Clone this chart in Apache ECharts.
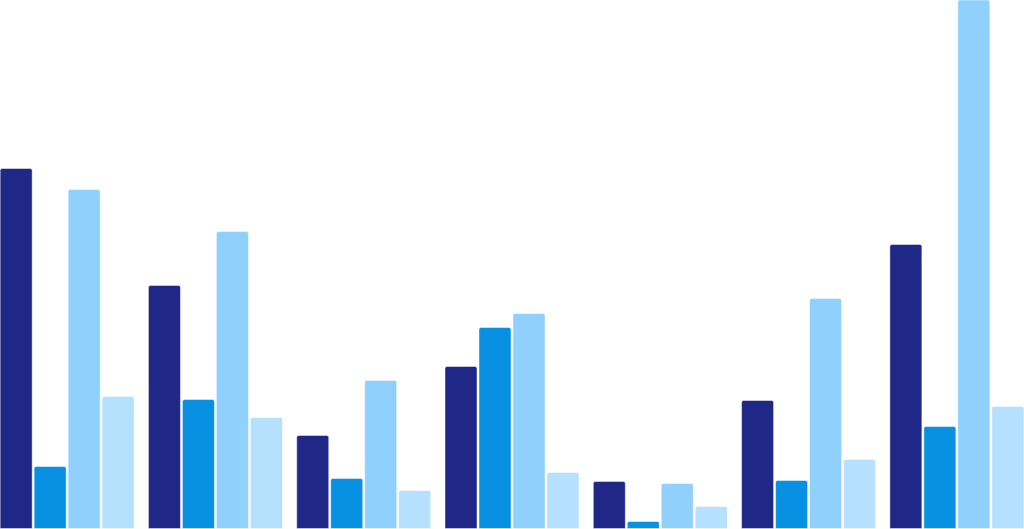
<!DOCTYPE html>
<html>
<head>
<meta charset="utf-8">
<script src="https://cdn.jsdelivr.net/npm/echarts@6/dist/echarts.min.js"></script>
<style>
  html, body { margin: 0; padding: 0; background: #fff; overflow: hidden; }
  #wrap { width: 1024px; height: 529px; overflow: hidden; position: relative; }
  #chart { width: 1038px; height: 529px; position: absolute; left: -7px; top: 0; }
</style>
</head>
<body>
<div id="wrap"><div id="chart"></div></div>
<script>
// values (axis units = pixels of bar height)
const categories = ["A", "B", "C", "D", "E", "F", "G"];
const seriesA = [361, 244, 94, 163, 48, 129, 285];
const seriesB = [63, 130, 51, 202, 8, 49, 103];
const seriesC = [340, 298, 149, 216, 46, 231, 580];
const seriesD = [133, 112, 39, 57, 23, 70, 123];
const colors = ["#1f2787", "#0891e3", "#90d0fd", "#b5e1fe"];
const yMax = 529;

const chart = echarts.init(document.getElementById("chart"));

function bar(name, data, i) {
  return {
    name: name,
    type: "bar",
    data: data,
    barWidth: 33,
    barGap: "3%",
    clip: true,
    itemStyle: {
      color: colors[i],
      borderColor: "rgba(255,255,255,0.45)",
      borderWidth: 1,
      borderRadius: [2, 2, 0, 0],
    },
  };
}

chart.setOption({
  animation: false,
  grid: { left: 0, right: 0, top: 0, bottom: 0 },
  xAxis: {
    type: "category",
    data: categories,
    show: false,
  },
  yAxis: {
    type: "value",
    min: 0,
    max: yMax,
    show: false,
    splitLine: { show: false },
  },
  series: [
    bar("s1", seriesA, 0),
    bar("s2", seriesB, 1),
    bar("s3", seriesC, 2),
    bar("s4", seriesD, 3),
  ],
});
</script>
</body>
</html>
